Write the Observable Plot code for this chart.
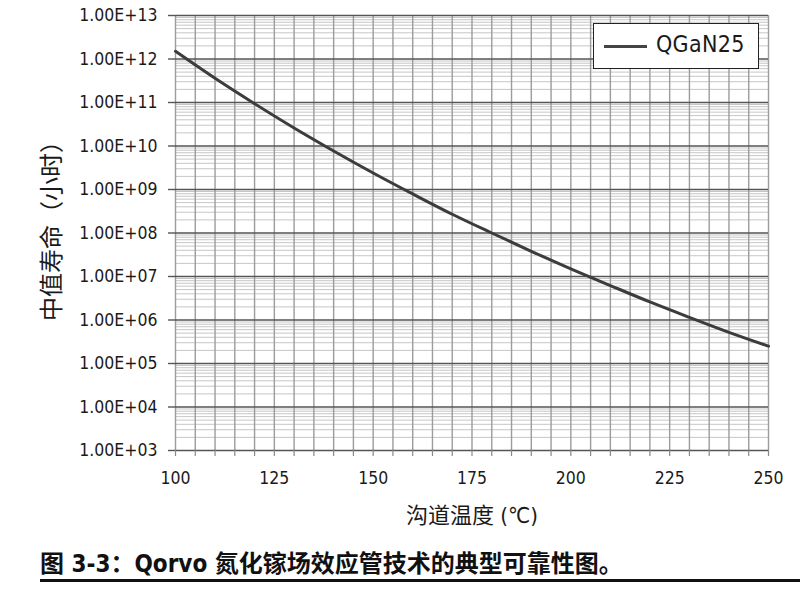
<!DOCTYPE html>
<html>
<head>
<meta charset="utf-8">
<script src="https://cdn.jsdelivr.net/npm/d3@7"></script>
<script src="https://cdn.jsdelivr.net/npm/@observablehq/plot@0.6"></script>
<style>
  html, body { margin: 0; padding: 0; background: #fff; }
  #wrap { position: relative; width: 800px; height: 605px; overflow: hidden; background: #fff; }
  #chart svg text { font-stretch: condensed; }
  #legend { position: absolute; left: 593px; top: 23px; width: 164px; height: 44px;
            border: 1.6px solid #222; background: #fff; }
  #legend .sw { position: absolute; left: 10px; top: 21px; width: 43px; height: 3px; background: #444; }
  #legend .lb { position: absolute; left: 62px; top: 7px; font-family: "DejaVu Sans", sans-serif; font-size: 23px;
                font-stretch: condensed; color: #1a1a1a; letter-spacing: 0.3px; }
  #caption { position: absolute; left: 40px; top: 549px; font-weight: bold; font-size: 24px;
             font-family: "DejaVu Sans", "Noto Sans CJK SC", sans-serif; font-stretch: condensed;
             color: #111; white-space: nowrap; line-height: 30px; }
  #rule { position: absolute; left: 40px; top: 579px; width: 760px; height: 3px; background: #111; }
</style>
</head>
<body>
<div id="wrap">
  <div id="chart"></div>
  <div id="legend"><div class="sw"></div><div class="lb"></div></div>
  <div id="caption"></div>
  <div id="rule"></div>
</div>
<script>
// ---- data ----
const temps = [100, 110, 120, 130, 140, 150, 160, 170, 180, 190, 200, 210, 220, 230, 240, 250];
const lifeHours = [1.5e12, 3.6e11, 9.4e10, 2.6e10, 7.7e9, 2.4e9, 7.9e8, 2.7e8, 1.0e8, 3.8e7, 1.5e7, 6.2e6, 2.6e6, 1.15e6, 5.2e5, 2.5e5];
const seriesName = "QGaN25";
const xTicks = [100, 125, 150, 175, 200, 225, 250];
const xGridStep = 5;
const yTicks = [1e3, 1e4, 1e5, 1e6, 1e7, 1e8, 1e9, 1e10, 1e11, 1e12, 1e13];
const yTickLabels = ["1.00E+03", "1.00E+04", "1.00E+05", "1.00E+06", "1.00E+07", "1.00E+08",
                     "1.00E+09", "1.00E+10", "1.00E+11", "1.00E+12", "1.00E+13"];
const xTitle = "沟道温度 (℃)";
const yTitle = "中值寿命（小时）";
const captionText = "图 3-3：Qorvo 氮化镓场效应管技术的典型可靠性图。";

// ---- derived tables ----
const points = temps.map((t, i) => ({t, h: lifeHours[i]}));
const xGrid = d3.range(xTicks[0], xTicks[xTicks.length - 1] + 0.001, xGridStep);
const minor = [];
yTicks.slice(0, -1).forEach(d => { for (let m = 2; m <= 9; m++) minor.push(d * m); });

const cond = "'DejaVu Sans', 'Noto Sans CJK SC', sans-serif";

const chart = Plot.plot({
  width: 800,
  height: 545,
  marginLeft: 175,
  marginRight: 32,
  marginTop: 15,
  marginBottom: 95,
  x: {domain: [xTicks[0], xTicks[xTicks.length - 1]]},
  y: {type: "log", domain: [yTicks[0], yTicks[yTicks.length - 1]]},
  style: {fontFamily: cond, fontSize: "17.5px", color: "#1a1a1a", background: "white", overflow: "visible"},
  marks: [
    Plot.ruleY(minor, {stroke: "#c6c6c6", strokeWidth: 1}),
    Plot.ruleX(xGrid, {stroke: "#9c9c9c", strokeWidth: 1.4}),
    Plot.ruleY(yTicks, {stroke: "#555", strokeWidth: 1.7}),
    Plot.axisX(xGrid, {tickSize: 6, tickPadding: 15, stroke: "#888", strokeWidth: 1.2,
      tickFormat: d => xTicks.includes(d) ? String(d) : "", label: null}),
    Plot.axisY(yTicks, {tickSize: 7, tickPadding: 11, stroke: "#555", strokeWidth: 1.4,
      tickFormat: d => yTickLabels[yTicks.indexOf(d)], label: null}),
    Plot.line(points, {x: "t", y: "h", stroke: "#3c3c3c", strokeWidth: 3, curve: "monotone-x"}),
    Plot.text([xTitle], {frameAnchor: "bottom", dy: 72, fontSize: 22, fill: "#1a1a1a",
      fontFamily: cond}),
    Plot.text([yTitle], {frameAnchor: "left", textAnchor: "middle", dx: -123, dy: -8, rotate: -90,
      fontSize: 24, fill: "#1a1a1a", fontFamily: "'Noto Sans CJK SC', sans-serif"})
  ]
});
document.getElementById("chart").appendChild(chart);
document.querySelector("#legend .lb").textContent = seriesName;
document.getElementById("caption").textContent = captionText;
</script>
</body>
</html>
